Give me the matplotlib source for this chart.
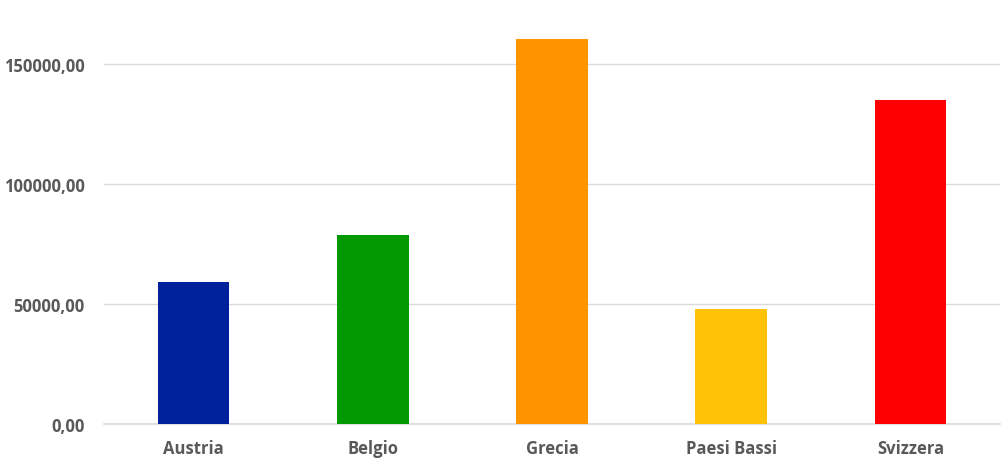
import matplotlib.pyplot as plt
from matplotlib.ticker import FuncFormatter

paesi = ['Austria', 'Belgio', 'Grecia', 'Paesi Bassi', 'Svizzera']
valori = [59300, 78750, 160400, 47900, 135000]
colori = ['#00219c', '#009a00', '#ff9300', '#ffc207', '#ff0000']
y_ticks = [0, 50000, 100000, 150000]

plt.rcParams['font.family'] = ['Open Sans', 'DejaVu Sans']

fig = plt.figure(figsize=(10.03, 4.64), dpi=100)
ax = fig.add_axes([104 / 1003, 39 / 464, 896 / 1003, 420 / 464])

ax.bar(range(len(paesi)), valori, width=0.4, color=colori, zorder=3)
ax.axhline(0, color='#d9d9d9', linewidth=1.2, zorder=2, clip_on=False)

ax.set_xlim(-0.5, len(paesi) - 0.5)
ax.set_ylim(0, 175000)
ax.set_yticks(y_ticks)
ax.yaxis.set_major_formatter(FuncFormatter(lambda v, p: f"{v:.2f}".replace('.', ',')))
ax.set_xticks(range(len(paesi)))
ax.set_xticklabels(paesi)

ax.grid(axis='y', color='#d9d9d9', linewidth=1, zorder=0)
for s in ax.spines.values():
    s.set_visible(False)
ax.tick_params(length=0, labelsize=12, colors='#595959', pad=14)
ax.tick_params(axis='x', pad=11)
for lbl in ax.get_xticklabels() + ax.get_yticklabels():
    lbl.set_fontweight('bold')

fig.savefig('out.png', dpi=100, facecolor='white')
